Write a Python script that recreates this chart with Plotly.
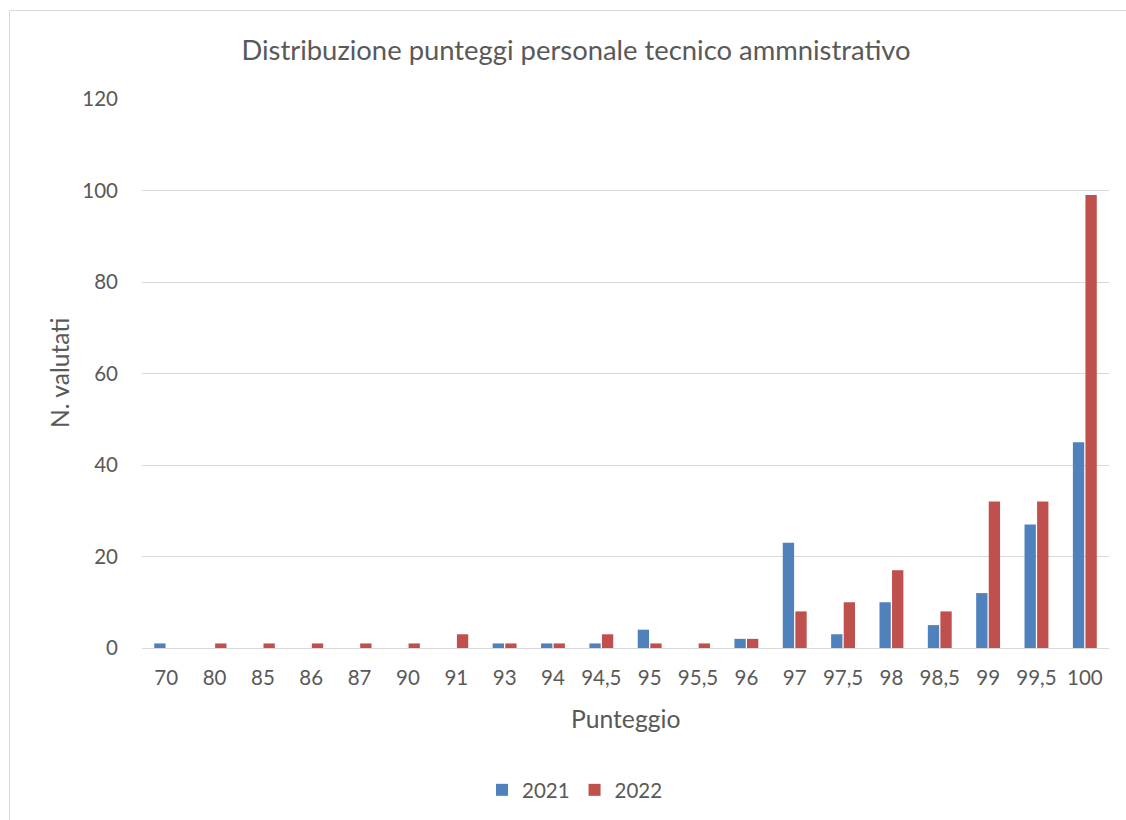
import plotly.graph_objects as go

categories = ["70", "80", "85", "86", "87", "90", "91", "93", "94", "94,5", "95",
              "95,5", "96", "97", "97,5", "98", "98,5", "99", "99,5", "100"]
values_2021 = [1, 0, 0, 0, 0, 0, 0, 1, 1, 1, 4, 0, 2, 23, 3, 10, 5, 12, 27, 45]
values_2022 = [0, 1, 1, 1, 1, 1, 3, 1, 1, 3, 1, 1, 2, 8, 10, 17, 8, 32, 32, 99]
y_ticks = [0, 20, 40, 60, 80, 100, 120]

FONT = "Lato"
TXT = "#595959"
GRID = "#D9D9D9"

W, H = 1126, 820
L, R, T, B = 142, 17, 99, 172
pw, ph = W - L - R, H - T - B


def px2x(p):
    return (p - L) / pw


def px2y(p):
    return (H - B - p) / ph


fig = go.Figure()
fig.add_trace(go.Bar(name="2021", x=categories, y=values_2021,
                     marker=dict(color="#4F81BD", line=dict(width=0))))
fig.add_trace(go.Bar(name="2022", x=categories, y=values_2022,
                     marker=dict(color="#C0504D", line=dict(width=0))))

fig.update_layout(
    width=W, height=H,
    margin=dict(l=L, r=R, t=T, b=B, autoexpand=False),
    paper_bgcolor="white", plot_bgcolor="white",
    font=dict(family=FONT, color=TXT, size=20),
    barmode="group", bargap=0.48, bargroupgap=0.1,
    title=dict(text="Distribuzione punteggi personale tecnico ammnistrativo",
               x=576 / W, xanchor="center", y=1 - 50 / H, yanchor="middle",
               font=dict(family=FONT, size=27.4, color=TXT)),
    showlegend=True,
    legend=dict(orientation="h", x=px2x(575), xanchor="center",
                y=px2y(790), yanchor="middle",
                font=dict(family=FONT, size=20.5, color=TXT),
                itemwidth=30, traceorder="normal"),
    xaxis=dict(type="category", showgrid=False, showline=True, linecolor=GRID,
               linewidth=1, ticks="", ticklabelstandoff=11,
               tickfont=dict(family=FONT, size=20.5, color=TXT), zeroline=False),
    yaxis=dict(range=[0, 120], tickvals=y_ticks, showgrid=True, gridcolor=GRID,
               gridwidth=1, showline=False, zeroline=False, ticks="",
               ticklabelstandoff=23,
               tickfont=dict(family=FONT, size=20.5, color=TXT)),
)

fig.add_annotation(text="N. valutati", xref="paper", yref="paper",
                   x=px2x(59), y=px2y(373), textangle=-90, showarrow=False,
                   xanchor="center", yanchor="middle",
                   font=dict(family=FONT, size=24.6, color=TXT))
fig.add_annotation(text="Punteggio", xref="paper", yref="paper",
                   x=px2x(625.5), y=px2y(718), showarrow=False,
                   xanchor="center", yanchor="middle",
                   font=dict(family=FONT, size=24.7, color=TXT))

fig.add_shape(type="rect", xref="paper", yref="paper",
              x0=px2x(9.5), x1=px2x(1140), y0=px2y(840), y1=px2y(10.5),
              line=dict(color=GRID, width=1), fillcolor="rgba(0,0,0,0)",
              layer="below")

fig.write_html("out.html")
